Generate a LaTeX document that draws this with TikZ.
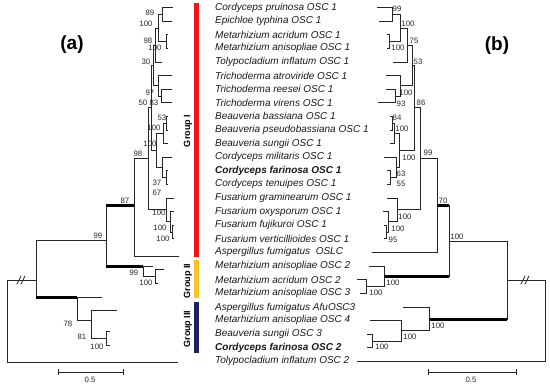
\documentclass[tikz,border=0pt]{standalone}
\usepackage{fontspec}
\setmainfont{Liberation Sans}
\definecolor{grpred}{RGB}{240,20,20}
\definecolor{grpyel}{RGB}{250,196,40}
\definecolor{grpnavy}{RGB}{28,36,100}
\begin{document}
\begin{tikzpicture}[x=1pt,y=-1pt,
  br/.style={line width=0.75pt, black!85, line cap=rect},
  thk/.style={line width=3pt, black},
  bs/.style={font=\fontsize{7.8}{8}\selectfont, inner sep=0pt, text=black!85},
  lab/.style={font=\fontsize{10}{11}\selectfont\itshape, anchor=west, inner sep=0pt, text=black!90},
  blab/.style={lab, font=\fontsize{10}{11}\selectfont\itshape\bfseries},
  grp/.style={font=\fontsize{9}{10}\selectfont\bfseries, rotate=90, inner sep=0pt},
  pan/.style={font=\fontsize{19}{20}\selectfont\bfseries, inner sep=0pt}]
\useasboundingbox (0,0) rectangle (550,386);
\newcommand\clade[5]{\draw[br] (#3,#2) -| (#1,#4) -- (#5,#4);}
% ---------- labels ----------
\node[lab]  (l0)  at (215,7.5)   {Cordyceps pruinosa OSC 1};
\node[lab]  (l1)  at (215,21.1)  {Epichloe typhina OSC 1};
\node[lab]  (l2)  at (215,34.7)  {Metarhizium acridum OSC 1};
\node[lab]  (l3)  at (215,48.3)  {Metarhizium anisopliae OSC 1};
\node[lab]  (l4)  at (215,61.9)  {Tolypocladium inflatum OSC 1};
\node[lab]  (l5)  at (215,75.5)  {Trichoderma atroviride OSC 1};
\node[lab]  (l6)  at (215,89.1)  {Trichoderma reesei OSC 1};
\node[lab]  (l7)  at (215,102.7) {Trichoderma virens OSC 1};
\node[lab]  (l8)  at (215,116.3) {Beauveria bassiana OSC 1};
\node[lab]  (l9)  at (215,129.9) {Beauveria pseudobassiana OSC 1};
\node[lab]  (l10) at (215,143.5) {Beauveria sungii OSC 1};
\node[lab]  (l11) at (215,157.1) {Cordyceps militaris OSC 1};
\node[blab] (l12) at (215,170.7) {Cordyceps farinosa OSC 1};
\node[lab]  (l13) at (215,184.3) {Cordyceps tenuipes OSC 1};
\node[lab]  (l14) at (215,197.9) {Fusarium graminearum OSC 1};
\node[lab]  (l15) at (215,211.5) {Fusarium oxysporum OSC 1};
\node[lab]  (l16) at (215,225.1) {Fusarium fujikuroi OSC 1};
\node[lab]  (l17) at (215,238.7) {Fusarium verticillioides OSC 1};
\node[lab]  (l18) at (215,252.3) {Aspergillus fumigatus\ \ OSLC};
\node[lab]  (l19) at (215,265.9) {Metarhizium anisopliae OSC 2};
\node[lab]  (l20) at (215,279.5) {Metarhizium acridum OSC 2};
\node[lab]  (l21) at (215,293.1) {Metarhizium anisopliae OSC 3};
\node[lab]  (l22) at (215,307.5) {Aspergillus fumigatus AfuOSC3};
\node[lab]  (l23) at (215,320.3) {Metarhizium anisopliae OSC 4};
\node[lab]  (l24) at (215,334.1) {Beauveria sungii OSC 3};
\node[blab] (l25) at (215,347.7) {Cordyceps farinosa OSC 2};
\node[lab]  (l26) at (215,361.3) {Tolypocladium inflatum OSC 2};
% ---------- group bars ----------
\fill[grpred] (194,3) rectangle (199,257);
\fill[grpyel] (194,260) rectangle (199,298);
\fill[grpnavy] (194,302) rectangle (199,353);
\node[grp] (g1) at (188,131) {Group I};
\node[grp] (g2) at (188,281) {Group II};
\node[grp] (g3) at (188,329) {Group III};
% ---------- panel labels ----------
\node[pan] (pa) at (72,45) {(a)};
\node[pan] (pb) at (497,46) {(b)};
% ---------- tree (a) ----------
\clade{162}{7.5}{173}{21.1}{172}
\clade{166}{34.7}{168}{48.3}{168}
\clade{158}{14.3}{162}{41.5}{166}
\clade{155}{27.9}{158}{61.9}{162}
\clade{161}{89.1}{172}{102.7}{172}
\clade{158}{75.5}{172}{95.9}{161}
\clade{153}{44.9}{155}{85.7}{158}
\clade{166}{116.3}{168}{129.9}{168}
\clade{163}{123.1}{166}{143.5}{168}
\clade{166}{170.7}{168}{184.3}{168}
\clade{162}{157.1}{172}{177.5}{166}
\clade{156}{133.3}{163}{167.3}{162}
\clade{151}{65.3}{153}{150.3}{156}
\clade{172}{225.1}{174}{238.7}{174}
\clade{170}{211.5}{174}{231.9}{172}
\clade{166}{197.9}{174}{221.7}{170}
\clade{148}{107.8}{151}{209.8}{166}
\clade{134}{158.8}{148}{256}{179}
% group II (a)
\clade{155}{269}{164}{283}{158}
\clade{143}{266}{153}{276}{155}
\clade{106}{205.6}{134}{266}{143}
\draw[thk] (106,205.6) -- (134,205.6);
\draw[thk] (106,266) -- (143,266);
% group III (a)
\clade{106}{331}{110}{345}{110}
\clade{91}{310}{117}{338}{106}
\clade{77}{297}{102}{320}{91}
\clade{36}{240}{106}{297}{77}
\draw[thk] (36,297) -- (77,297);
\clade{7}{280}{36}{362}{178}
\draw[br] (17,284) -- (21,276);
\draw[br] (21,284) -- (25,276);
% bootstrap (a)
\node[bs] (a1) at (150,13) {89};
\node[bs] (a2) at (146,24) {100};
\node[bs] (a3) at (148,41) {98};
\node[bs] (a4) at (155,48) {100};
\node[bs] (a5) at (146,62) {30};
\node[bs] (a6) at (150,93) {97};
\node[bs] (a7) at (143,103) {50};
\node[bs] (a8) at (154,103) {83};
\node[bs] (a9) at (162,118) {53};
\node[bs] (a10) at (154,128) {100};
\node[bs] (a11) at (150,144) {100};
\node[bs] (a12) at (138,154) {98};
\node[bs] (a13) at (157,183) {37};
\node[bs] (a14) at (157,193) {67};
\node[bs] (a15) at (125,201) {87};
\node[bs] (a16) at (98,236) {99};
\node[bs] (a17) at (159,213) {100};
\node[bs] (a18) at (160,228) {100};
\node[bs] (a19) at (163,239) {100};
\node[bs] (a20) at (134,273) {99};
\node[bs] (a21) at (146,283) {100};
\node[bs] (a22) at (68,324) {78};
\node[bs] (a23) at (82,337) {81};
\node[bs] (a24) at (97,347) {100};
% scale (a)
\coordinate (sa1) at (58,372); \coordinate (sa2) at (123,372);
\draw[br] (sa1) -- (sa2);
\draw[br] ([yshift=-3pt]sa1) -- ([yshift=3pt]sa1);
\draw[br] ([yshift=-3pt]sa2) -- ([yshift=3pt]sa2);
\node[bs] (sca) at (90,380) {0.5};
% ---------- tree (b) ----------
\clade{392}{7.5}{377}{21.1}{379}
\clade{389}{34.7}{387}{48.3}{387}
\clade{400}{14.3}{392}{41.5}{389}
\clade{407}{27.9}{400}{61.9}{393}
\clade{395}{89.1}{386}{102.7}{378}
\clade{400}{75.5}{386}{95.9}{395}
\clade{412}{44.9}{407}{85.7}{400}
\clade{392}{116.3}{390}{129.9}{390}
\clade{394}{123.1}{392}{143.5}{390}
\clade{390}{170.7}{387}{184.3}{387}
\clade{396}{157.1}{384}{177.5}{390}
\clade{399}{133.3}{394}{167.3}{396}
\clade{414}{65.3}{412}{150.3}{399}
\clade{386}{225.1}{384}{238.7}{384}
\clade{388}{211.5}{383}{231.9}{386}
\clade{397}{197.9}{387}{221.7}{388}
\clade{420}{107.8}{414}{209.8}{397}
\clade{437}{158.8}{420}{252.3}{372}
\clade{366}{279.5}{357}{293.1}{360}
\clade{384}{265.9}{369}{286.3}{366}
\clade{449}{205.6}{437}{276.1}{384}
\draw[thk] (437,205.6) -- (449,205.6);
\draw[thk] (384,276.1) -- (449,276.1);
\clade{372}{334.1}{367}{347.7}{367}
\clade{401}{320.3}{370}{340.9}{372}
\clade{429}{307.5}{403}{330.6}{401}
\clade{507}{240.9}{449}{319.1}{429}
\draw[thk] (429,319.1) -- (507,319.1);
\clade{545}{280}{507}{361.3}{357}
\draw[br] (521,284) -- (525,276);
\draw[br] (525,284) -- (529,276);
% bootstrap (b)
\node[bs] (b1) at (397,9) {99};
\node[bs] (b2) at (408,24) {100};
\node[bs] (b3) at (398,48) {100};
\node[bs] (b4) at (414,41) {75};
\node[bs] (b5) at (418,62) {53};
\node[bs] (b6) at (406,93) {100};
\node[bs] (b7) at (401,104) {93};
\node[bs] (b8) at (421,103) {86};
\node[bs] (b9) at (397,118) {84};
\node[bs] (b10) at (402,129) {100};
\node[bs] (b11) at (409,158) {100};
\node[bs] (b12) at (428,153) {99};
\node[bs] (b13) at (401,174) {63};
\node[bs] (b14) at (401,184) {55};
\node[bs] (b15) at (443,201) {70};
\node[bs] (b16) at (405,217) {100};
\node[bs] (b17) at (398,229) {100};
\node[bs] (b18) at (393,240) {95};
\node[bs] (b19) at (457,237) {100};
\node[bs] (b20) at (393,283) {100};
\node[bs] (b21) at (376,293) {100};
\node[bs] (b22) at (438,326) {100};
\node[bs] (b23) at (410,337) {100};
\node[bs] (b24) at (382,347) {100};
% scale (b)
\coordinate (sb1) at (428,372); \coordinate (sb2) at (516,372);
\draw[br] (sb1) -- (sb2);
\draw[br] ([yshift=-3pt]sb1) -- ([yshift=3pt]sb1);
\draw[br] ([yshift=-3pt]sb2) -- ([yshift=3pt]sb2);
\node[bs] (scb) at (471,380) {0.5};
\end{tikzpicture}
\end{document}
